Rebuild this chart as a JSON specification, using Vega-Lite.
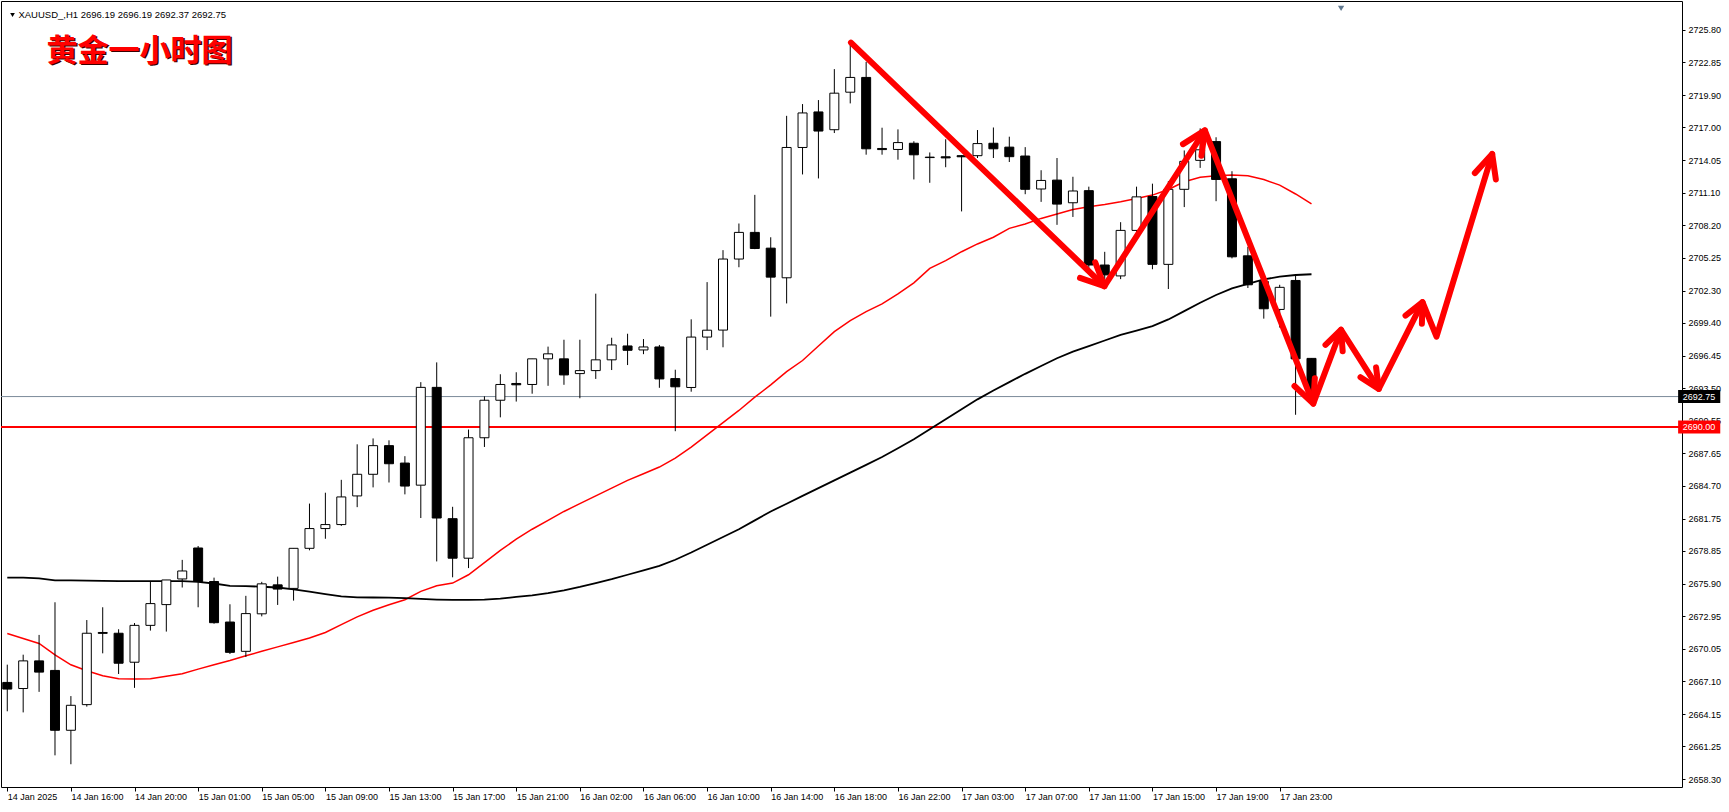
{
  "$schema": "https://vega.github.io/schema/vega-lite/v6.json",
  "width": 1681,
  "height": 786,
  "autosize": {"type": "none"},
  "padding": {"left": 1, "top": 1, "right": 47, "bottom": 25},
  "background": "white",
  "config": {
    "view": {"stroke": "black", "strokeWidth": 1},
    "axis": {"labelFont": "Liberation Sans", "labelFontSize": 9, "labelColor": "black", "tickColor": "black", "domain": false, "grid": false, "title": null, "labelOverlap": false}
  },
  "datasets": {
    "bars": [
      {"i":0,"o":2667.0,"h":2668.6,"l":2664.4,"c":2666.4,"f":2671.4,"s":2676.44},
      {"i":1,"o":2666.45,"h":2669.5,"l":2664.3,"c":2668.94,"f":2670.96,"s":2676.44},
      {"i":2,"o":2668.94,"h":2671.28,"l":2666.15,"c":2667.93,"f":2670.51,"s":2676.38},
      {"i":3,"o":2668.08,"h":2674.22,"l":2660.43,"c":2662.69,"f":2669.48,"s":2676.2},
      {"i":4,"o":2662.69,"h":2665.77,"l":2659.63,"c":2664.94,"f":2668.59,"s":2676.2},
      {"i":5,"o":2665.0,"h":2672.62,"l":2664.82,"c":2671.43,"f":2668.05,"s":2676.17},
      {"i":6,"o":2671.5,"h":2673.77,"l":2669.62,"c":2671.42,"f":2667.61,"s":2676.15},
      {"i":7,"o":2671.43,"h":2671.79,"l":2667.76,"c":2668.73,"f":2667.34,"s":2676.12},
      {"i":8,"o":2668.82,"h":2672.35,"l":2666.51,"c":2672.14,"f":2667.31,"s":2676.12},
      {"i":9,"o":2672.14,"h":2676.06,"l":2671.67,"c":2674.1,"f":2667.34,"s":2676.12},
      {"i":10,"o":2674.01,"h":2676.23,"l":2671.58,"c":2676.23,"f":2667.55,"s":2676.12},
      {"i":11,"o":2676.32,"h":2678.04,"l":2675.55,"c":2677.04,"f":2667.79,"s":2676.12},
      {"i":12,"o":2679.11,"h":2679.29,"l":2673.77,"c":2676.09,"f":2668.2,"s":2676.06},
      {"i":13,"o":2676.09,"h":2676.44,"l":2672.29,"c":2672.38,"f":2668.59,"s":2675.91},
      {"i":14,"o":2672.44,"h":2674.04,"l":2669.56,"c":2669.71,"f":2668.97,"s":2675.7},
      {"i":15,"o":2669.8,"h":2674.8,"l":2669.3,"c":2673.2,"f":2669.4,"s":2675.68},
      {"i":16,"o":2673.18,"h":2676.06,"l":2672.95,"c":2675.88,"f":2669.8,"s":2675.62},
      {"i":17,"o":2675.79,"h":2676.53,"l":2673.98,"c":2675.41,"f":2670.2,"s":2675.55},
      {"i":18,"o":2675.47,"h":2679.08,"l":2674.37,"c":2679.08,"f":2670.6,"s":2675.38},
      {"i":19,"o":2679.08,"h":2683.11,"l":2678.9,"c":2680.86,"f":2671.0,"s":2675.17},
      {"i":20,"o":2680.86,"h":2684.09,"l":2679.94,"c":2681.22,"f":2671.5,"s":2674.96},
      {"i":21,"o":2681.22,"h":2685.25,"l":2681.1,"c":2683.71,"f":2672.2,"s":2674.75},
      {"i":22,"o":2683.8,"h":2688.45,"l":2682.79,"c":2685.75,"f":2672.9,"s":2674.66},
      {"i":23,"o":2685.75,"h":2688.98,"l":2684.57,"c":2688.33,"f":2673.5,"s":2674.65},
      {"i":24,"o":2688.33,"h":2688.81,"l":2685.01,"c":2686.7,"f":2674.0,"s":2674.64},
      {"i":25,"o":2686.76,"h":2687.38,"l":2683.94,"c":2684.69,"f":2674.45,"s":2674.6},
      {"i":26,"o":2684.77,"h":2694.05,"l":2681.81,"c":2693.58,"f":2675.2,"s":2674.52},
      {"i":27,"o":2693.58,"h":2695.83,"l":2677.9,"c":2681.81,"f":2675.7,"s":2674.46},
      {"i":28,"o":2681.75,"h":2682.82,"l":2676.47,"c":2678.19,"f":2675.95,"s":2674.43},
      {"i":29,"o":2678.19,"h":2689.78,"l":2677.3,"c":2689.04,"f":2676.7,"s":2674.43},
      {"i":30,"o":2689.04,"h":2692.77,"l":2688.21,"c":2692.42,"f":2677.8,"s":2674.45},
      {"i":31,"o":2692.42,"h":2694.76,"l":2690.88,"c":2693.84,"f":2678.9,"s":2674.55},
      {"i":32,"o":2693.93,"h":2694.94,"l":2692.3,"c":2693.81,"f":2679.9,"s":2674.7},
      {"i":33,"o":2693.84,"h":2696.15,"l":2693.01,"c":2696.15,"f":2680.8,"s":2674.85},
      {"i":34,"o":2696.15,"h":2697.25,"l":2693.72,"c":2696.6,"f":2681.6,"s":2675.05},
      {"i":35,"o":2696.15,"h":2697.87,"l":2693.81,"c":2694.7,"f":2682.4,"s":2675.3},
      {"i":36,"o":2694.82,"h":2697.87,"l":2692.6,"c":2695.09,"f":2683.1,"s":2675.6},
      {"i":37,"o":2695.09,"h":2702.02,"l":2694.34,"c":2696.06,"f":2683.8,"s":2675.95},
      {"i":38,"o":2696.06,"h":2698.05,"l":2695.14,"c":2697.4,"f":2684.5,"s":2676.3},
      {"i":39,"o":2697.31,"h":2698.41,"l":2695.59,"c":2696.92,"f":2685.2,"s":2676.7},
      {"i":40,"o":2696.95,"h":2697.93,"l":2696.57,"c":2697.22,"f":2685.8,"s":2677.1},
      {"i":41,"o":2697.22,"h":2697.4,"l":2693.54,"c":2694.34,"f":2686.4,"s":2677.5},
      {"i":42,"o":2694.37,"h":2695.17,"l":2689.63,"c":2693.63,"f":2687.2,"s":2678.05},
      {"i":43,"o":2693.57,"h":2699.71,"l":2693.19,"c":2698.11,"f":2688.2,"s":2678.7},
      {"i":44,"o":2698.11,"h":2703.06,"l":2696.94,"c":2698.73,"f":2689.3,"s":2679.4},
      {"i":45,"o":2698.74,"h":2705.94,"l":2697.19,"c":2705.14,"f":2690.4,"s":2680.1},
      {"i":46,"o":2705.14,"h":2708.34,"l":2704.4,"c":2707.54,"f":2691.5,"s":2680.8},
      {"i":47,"o":2707.54,"h":2710.92,"l":2706.03,"c":2706.09,"f":2692.7,"s":2681.6},
      {"i":48,"o":2706.12,"h":2707.1,"l":2699.95,"c":2703.51,"f":2693.8,"s":2682.4},
      {"i":49,"o":2703.45,"h":2718.04,"l":2701.14,"c":2715.19,"f":2695.0,"s":2683.1},
      {"i":50,"o":2715.19,"h":2719.1,"l":2712.76,"c":2718.3,"f":2696.0,"s":2683.8},
      {"i":51,"o":2718.39,"h":2719.46,"l":2712.4,"c":2716.67,"f":2697.3,"s":2684.5},
      {"i":52,"o":2716.79,"h":2722.25,"l":2716.49,"c":2720.08,"f":2698.6,"s":2685.2},
      {"i":53,"o":2720.17,"h":2724.6,"l":2719.16,"c":2721.5,"f":2699.6,"s":2685.9},
      {"i":54,"o":2721.5,"h":2722.9,"l":2714.54,"c":2715.07,"f":2700.4,"s":2686.6},
      {"i":55,"o":2715.1,"h":2716.97,"l":2714.54,"c":2715.0,"f":2701.1,"s":2687.3},
      {"i":56,"o":2715.01,"h":2716.82,"l":2714.09,"c":2715.63,"f":2702.0,"s":2688.1},
      {"i":57,"o":2715.57,"h":2715.75,"l":2712.31,"c":2714.53,"f":2703.0,"s":2688.9},
      {"i":58,"o":2714.32,"h":2714.74,"l":2712.01,"c":2714.28,"f":2704.3,"s":2689.8},
      {"i":59,"o":2714.35,"h":2715.93,"l":2713.41,"c":2714.25,"f":2705.0,"s":2690.7},
      {"i":60,"o":2714.45,"h":2714.5,"l":2709.43,"c":2714.35,"f":2705.8,"s":2691.6},
      {"i":61,"o":2714.45,"h":2716.76,"l":2714.24,"c":2715.54,"f":2706.5,"s":2692.5},
      {"i":62,"o":2715.57,"h":2716.99,"l":2714.24,"c":2715.07,"f":2707.1,"s":2693.3},
      {"i":63,"o":2715.22,"h":2716.16,"l":2713.88,"c":2714.36,"f":2707.9,"s":2694.05},
      {"i":64,"o":2714.42,"h":2715.22,"l":2710.98,"c":2711.42,"f":2708.3,"s":2694.8},
      {"i":65,"o":2711.45,"h":2713.14,"l":2710.29,"c":2712.22,"f":2708.8,"s":2695.5},
      {"i":66,"o":2712.25,"h":2714.24,"l":2708.22,"c":2710.09,"f":2709.2,"s":2696.2},
      {"i":67,"o":2710.21,"h":2712.55,"l":2708.93,"c":2711.27,"f":2709.6,"s":2696.8},
      {"i":68,"o":2711.3,"h":2711.66,"l":2704.2,"c":2704.6,"f":2709.85,"s":2697.3},
      {"i":69,"o":2704.6,"h":2705.79,"l":2703.3,"c":2703.71,"f":2710.05,"s":2697.8},
      {"i":70,"o":2703.62,"h":2708.46,"l":2703.33,"c":2707.72,"f":2710.3,"s":2698.3},
      {"i":71,"o":2707.72,"h":2711.66,"l":2707.4,"c":2710.74,"f":2710.6,"s":2698.7},
      {"i":72,"o":2710.77,"h":2711.93,"l":2704.22,"c":2704.66,"f":2710.9,"s":2699.1},
      {"i":73,"o":2704.66,"h":2712.16,"l":2702.44,"c":2711.42,"f":2711.4,"s":2699.7},
      {"i":74,"o":2711.42,"h":2714.92,"l":2709.82,"c":2713.94,"f":2712.1,"s":2700.45},
      {"i":75,"o":2714.03,"h":2716.91,"l":2713.35,"c":2714.98,"f":2712.5,"s":2701.2},
      {"i":76,"o":2715.72,"h":2716.11,"l":2710.35,"c":2712.31,"f":2712.65,"s":2701.9},
      {"i":77,"o":2712.37,"h":2713.05,"l":2705.2,"c":2705.34,"f":2712.7,"s":2702.5},
      {"i":78,"o":2705.43,"h":2706.24,"l":2702.53,"c":2702.82,"f":2712.65,"s":2702.9},
      {"i":79,"o":2703.12,"h":2703.5,"l":2699.77,"c":2700.66,"f":2712.3,"s":2703.3},
      {"i":80,"o":2700.6,"h":2702.82,"l":2698.97,"c":2702.59,"f":2711.8,"s":2703.55},
      {"i":81,"o":2703.21,"h":2703.77,"l":2691.11,"c":2696.15,"f":2711.0,"s":2703.7},
      {"i":82,"o":2696.19,"h":2696.19,"l":2692.37,"c":2692.75,"f":2710.1,"s":2703.77}
    ],
    "arrows": [
      {"seg":"m","k":0,"i":53.045,"p":2724.64},
      {"seg":"m","k":1,"i":68.98,"p":2702.69},
      {"seg":"m","k":2,"i":75.295,"p":2716.73},
      {"seg":"m","k":3,"i":82.11,"p":2692.11},
      {"seg":"m","k":4,"i":83.86,"p":2698.77},
      {"seg":"m","k":5,"i":86.23,"p":2693.44},
      {"seg":"m","k":6,"i":88.98,"p":2701.26},
      {"seg":"m","k":7,"i":89.86,"p":2698.15},
      {"seg":"m","k":8,"i":93.36,"p":2714.6},
      {"seg":"hB","k":0,"i":68.4,"p":2704.85},
      {"seg":"hB","k":1,"i":68.98,"p":2702.69},
      {"seg":"hB","k":2,"i":67.445,"p":2703.44},
      {"seg":"hC","k":0,"i":73.92,"p":2715.49},
      {"seg":"hC","k":1,"i":75.295,"p":2716.73},
      {"seg":"hC","k":2,"i":75.08,"p":2714.44},
      {"seg":"hD","k":0,"i":82.21,"p":2694.41},
      {"seg":"hD","k":1,"i":82.11,"p":2692.11},
      {"seg":"hD","k":2,"i":80.93,"p":2693.7},
      {"seg":"hE","k":0,"i":82.88,"p":2697.41},
      {"seg":"hE","k":1,"i":83.86,"p":2698.77},
      {"seg":"hE","k":2,"i":83.96,"p":2696.83},
      {"seg":"hF","k":0,"i":86.06,"p":2695.38},
      {"seg":"hF","k":1,"i":86.23,"p":2693.44},
      {"seg":"hF","k":2,"i":85.08,"p":2694.5},
      {"seg":"hG","k":0,"i":87.91,"p":2700.05},
      {"seg":"hG","k":1,"i":88.98,"p":2701.26},
      {"seg":"hG","k":2,"i":88.94,"p":2699.31},
      {"seg":"hI","k":0,"i":92.27,"p":2712.88},
      {"seg":"hI","k":1,"i":93.36,"p":2714.6},
      {"seg":"hI","k":2,"i":93.59,"p":2712.31}
    ],
    "levels": [
      {"p": 2692.75, "kind": "bid", "label": "2692.75"},
      {"p": 2690.0, "kind": "level", "label": "2690.00"}
    ]
  },
  "layer": [
    {
      "data": {"name": "levels"},
      "mark": {"type": "rule", "clip": true},
      "encoding": {
        "y": {"field": "p", "type": "quantitative", "scale": {"domain": [2658.03, 2727.934], "nice": false, "zero": false},
          "axis": {"orient": "right", "tickCount": 40, "values": [2725.80, 2722.85, 2719.90, 2717.00, 2714.05, 2711.10, 2708.20, 2705.25, 2702.30, 2699.40, 2696.45, 2693.50, 2690.55, 2687.65, 2684.70, 2681.75, 2678.85, 2675.90, 2672.95, 2670.05, 2667.10, 2664.15, 2661.25, 2658.30], "format": ".2f", "tickSize": 3, "labelPadding": 3, "labelOverlap": false, "labelFlush": false, "labelBound": false}},
        "color": {"field": "kind", "type": "nominal", "scale": {"domain": ["bid", "level"], "range": ["#7b8a99", "#ff0000"]}, "legend": null},
        "strokeWidth": {"field": "kind", "type": "nominal", "scale": {"domain": ["bid", "level"], "range": [1, 2]}, "legend": null}
      }
    },
    {
      "data": {"name": "bars"},
      "mark": {"type": "line", "color": "#ff0000", "strokeWidth": 1.5, "clip": true},
      "encoding": {
        "x": {"field": "i", "type": "quantitative", "scale": {"domain": [-0.08, 104.98], "nice": false, "zero": false},
          "axis": {"tickCount": 40, "values": [0,4,8,12,16,20,24,28,32,36,40,44,48,52,56,60,64,68,72,76,80], "labelExpr": "['14 Jan 2025','14 Jan 16:00','14 Jan 20:00','15 Jan 01:00','15 Jan 05:00','15 Jan 09:00','15 Jan 13:00','15 Jan 17:00','15 Jan 21:00','16 Jan 02:00','16 Jan 06:00','16 Jan 10:00','16 Jan 14:00','16 Jan 18:00','16 Jan 22:00','17 Jan 03:00','17 Jan 07:00','17 Jan 11:00','17 Jan 15:00','17 Jan 19:00','17 Jan 23:00'][round(datum.value/4)]", "labelAlign": "left", "labelBaseline": "top", "labelPadding": 1, "labelDx": 1, "tickSize": 4, "labelOverlap": false, "labelFlush": false, "labelBound": false}},
        "y": {"field": "f", "type": "quantitative"}
      }
    },
    {
      "data": {"name": "bars"},
      "mark": {"type": "line", "color": "black", "strokeWidth": 1.8, "clip": true},
      "encoding": {
        "x": {"field": "i", "type": "quantitative"},
        "y": {"field": "s", "type": "quantitative"}
      }
    },
    {
      "data": {"name": "bars"},
      "mark": {"type": "rule", "color": "black", "strokeWidth": 1, "clip": true},
      "encoding": {
        "x": {"field": "i", "type": "quantitative"},
        "y": {"field": "l", "type": "quantitative"},
        "y2": {"field": "h"}
      }
    },
    {
      "data": {"name": "bars"},
      "mark": {"type": "bar", "width": 9, "stroke": "black", "strokeWidth": 1, "clip": true},
      "encoding": {
        "x": {"field": "i", "type": "quantitative"},
        "y": {"field": "o", "type": "quantitative"},
        "y2": {"field": "c"},
        "fill": {"condition": {"test": "datum.c >= datum.o", "value": "white"}, "value": "black"}
      }
    },
    {
      "data": {"name": "arrows"},
      "mark": {"type": "line", "color": "#ff0000", "strokeWidth": 6, "strokeCap": "round", "strokeJoin": "round", "clip": true},
      "encoding": {
        "x": {"field": "i", "type": "quantitative"},
        "y": {"field": "p", "type": "quantitative"},
        "detail": {"field": "seg", "type": "nominal"},
        "order": {"field": "k", "type": "quantitative"}
      }
    },
    {
      "data": {"name": "levels"},
      "mark": {"type": "bar", "height": 13, "clip": false},
      "encoding": {
        "x": {"datum": 105.05, "type": "quantitative"},
        "x2": {"datum": 107.7},
        "y": {"field": "p", "type": "quantitative"},
        "fill": {"field": "kind", "type": "nominal", "scale": {"domain": ["bid", "level"], "range": ["black", "#ff0000"]}, "legend": null}
      }
    },
    {
      "data": {"name": "levels"},
      "mark": {"type": "text", "color": "white", "font": "Liberation Sans", "fontSize": 9, "align": "center", "baseline": "middle", "clip": false},
      "encoding": {
        "x": {"datum": 106.37, "type": "quantitative"},
        "y": {"field": "p", "type": "quantitative"},
        "text": {"field": "label"}
      }
    },
    {
      "data": {"values": [{"t": "XAUUSD_,H1  2696.19 2696.19 2692.37 2692.75"}]},
      "mark": {"type": "text", "color": "black", "font": "Liberation Sans", "fontSize": 9.5, "align": "left", "baseline": "middle"},
      "encoding": {
        "x": {"datum": 0.7, "type": "quantitative"},
        "y": {"datum": 2727.13, "type": "quantitative"},
        "text": {"field": "t"}
      }
    },
    {
      "data": {"values": [{"t": "marker"}]},
      "mark": {"type": "point", "shape": "triangle-down", "filled": true, "color": "black", "size": 22, "opacity": 1},
      "encoding": {
        "x": {"datum": 0.33, "type": "quantitative"},
        "y": {"datum": 2727.13, "type": "quantitative"}
      }
    },
    {
      "data": {"values": [{"t": "shift"}]},
      "mark": {"type": "point", "shape": "triangle-down", "filled": true, "color": "#60788f", "size": 40, "opacity": 1, "clip": true},
      "encoding": {
        "x": {"datum": 83.86, "type": "quantitative"},
        "y": {"datum": 2727.72, "type": "quantitative"}
      }
    },
    {
      "data": {"values": [{"t": "黄金一小时图"}]},
      "mark": {"type": "text", "color": "#3a0000", "font": "Noto Sans CJK SC", "fontWeight": "bold", "fontSize": 31, "align": "left", "baseline": "middle", "dx": 1.5, "dy": 1.5},
      "encoding": {
        "x": {"datum": 2.46, "type": "quantitative"},
        "y": {"datum": 2723.8, "type": "quantitative"},
        "text": {"field": "t"}
      }
    },
    {
      "data": {"values": [{"t": "黄金一小时图"}]},
      "mark": {"type": "text", "color": "#ff0000", "font": "Noto Sans CJK SC", "fontWeight": "bold", "fontSize": 31, "align": "left", "baseline": "middle"},
      "encoding": {
        "x": {"datum": 2.46, "type": "quantitative"},
        "y": {"datum": 2723.8, "type": "quantitative"},
        "text": {"field": "t"}
      }
    }
  ]
}
